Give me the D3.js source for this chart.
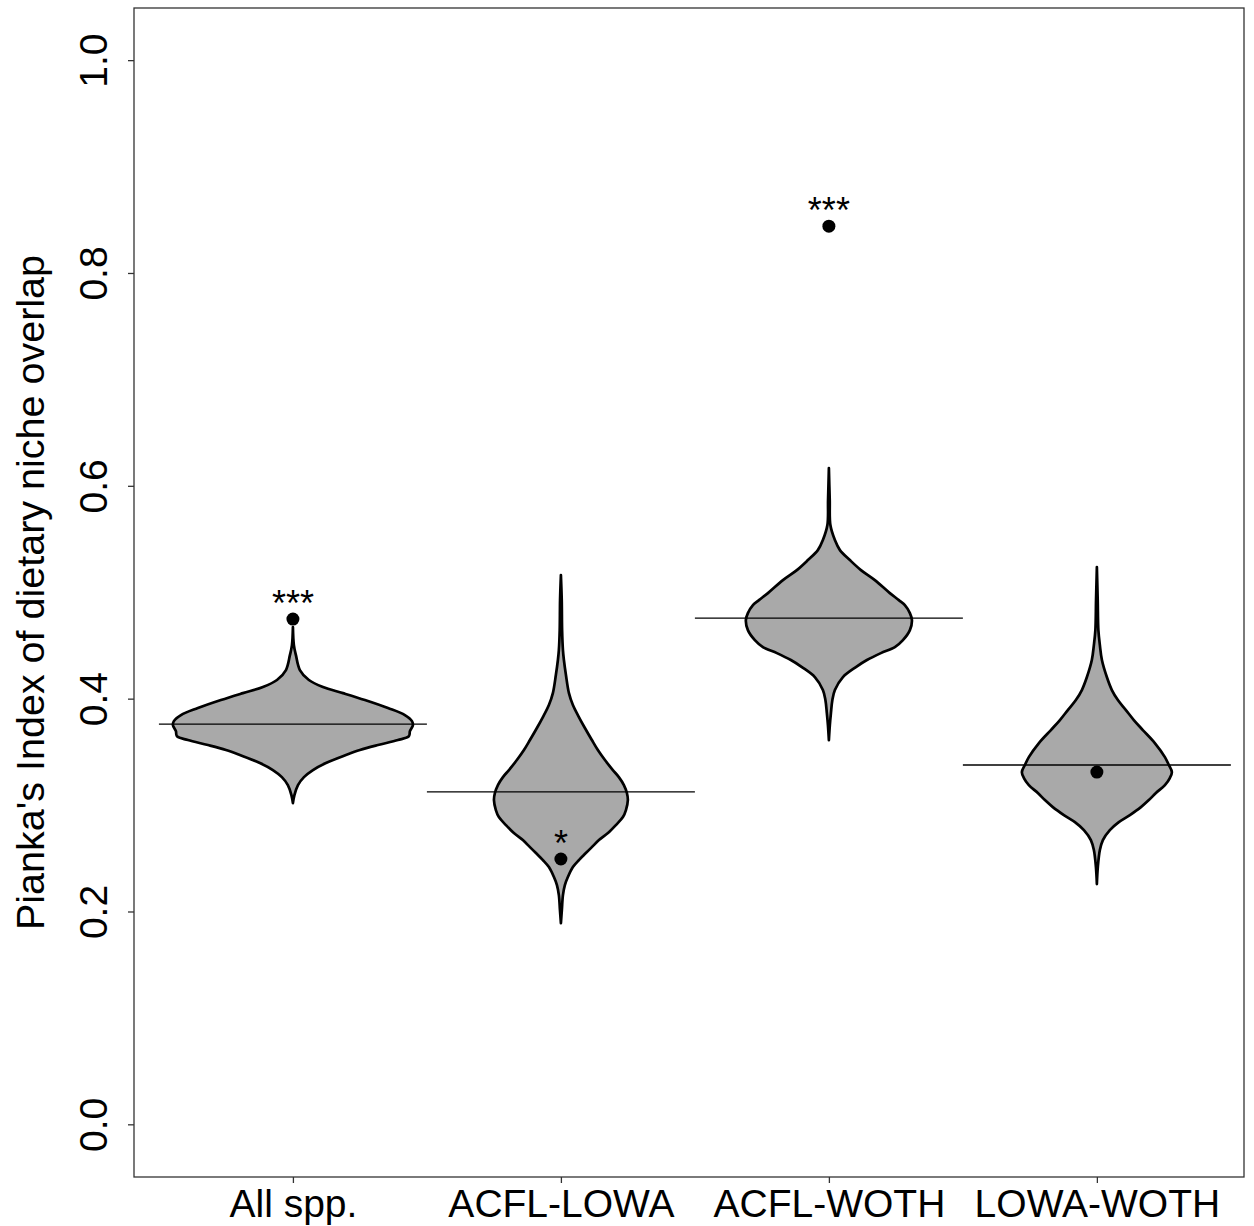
<!DOCTYPE html>
<html>
<head>
<meta charset="utf-8">
<script src="https://cdn.jsdelivr.net/npm/d3@7"></script>
<style>
  html, body { margin: 0; padding: 0; background: #fff; }
  svg { display: block; font-family: "Liberation Sans", Arial, Helvetica, sans-serif; }
</style>
</head>
<body>
<svg id="chart" width="1254" height="1226"></svg>
<script>
// Pairwise comparisons shown along the x axis
const categories = ["All spp.", "ACFL-LOWA", "ACFL-WOTH", "LOWA-WOTH"];

// Null-model distributions of Pianka's index: [value, relative density]
const nullAll = [
  [0.4673, 0], [0.4503, 0.008], [0.4409, 0.025], [0.4269, 0.058], [0.4175, 0.133],
  [0.4109, 0.25], [0.4052, 0.417], [0.3987, 0.6], [0.3912, 0.792], [0.3846, 0.933],
  [0.3789, 0.992], [0.3752, 1.0], [0.3695, 0.975], [0.3648, 0.967], [0.3611, 0.875],
  [0.3564, 0.708], [0.3517, 0.558], [0.3470, 0.442], [0.3395, 0.275], [0.3329, 0.167],
  [0.3263, 0.092], [0.3188, 0.042], [0.3094, 0.0125], [0.3019, 0]
];
const nullAcflLowa = [
  [0.5161, 0], [0.4926, 0.007], [0.4644, 0.01], [0.4456, 0.017], [0.4363, 0.025],
  [0.4222, 0.042], [0.4052, 0.067], [0.3940, 0.1], [0.3827, 0.15], [0.3724, 0.2],
  [0.3611, 0.258], [0.3517, 0.308], [0.3423, 0.367], [0.3329, 0.433], [0.3263, 0.483],
  [0.3188, 0.525], [0.3113, 0.55], [0.3047, 0.558], [0.2953, 0.542], [0.2887, 0.517],
  [0.2812, 0.458], [0.2737, 0.392], [0.2671, 0.317], [0.2605, 0.258], [0.2549, 0.208],
  [0.2483, 0.15], [0.2418, 0.1], [0.2324, 0.058], [0.2248, 0.033], [0.2154, 0.017],
  [0.2014, 0.008], [0.1891, 0]
];
const nullAcflWoth = [
  [0.6166, 0], [0.5866, 0.007], [0.5631, 0.0125], [0.5490, 0.05], [0.5396, 0.092],
  [0.5302, 0.175], [0.5208, 0.267], [0.5114, 0.383], [0.4992, 0.508], [0.4926, 0.583],
  [0.4879, 0.633], [0.4804, 0.675], [0.4738, 0.692], [0.4644, 0.675], [0.4550, 0.617],
  [0.4485, 0.55], [0.4428, 0.433], [0.4363, 0.317], [0.4297, 0.225], [0.4203, 0.117],
  [0.4081, 0.05], [0.3987, 0.029], [0.3865, 0.017], [0.3752, 0.008], [0.3611, 0]
];
const nullLowaWoth = [
  [0.5236, 0], [0.4926, 0.007], [0.4644, 0.0125], [0.4503, 0.025], [0.4363, 0.042],
  [0.4203, 0.083], [0.4081, 0.125], [0.3987, 0.175], [0.3893, 0.242], [0.3799, 0.308],
  [0.3705, 0.383], [0.3583, 0.483], [0.3451, 0.567], [0.3376, 0.6], [0.3310, 0.625],
  [0.3254, 0.608], [0.3188, 0.567], [0.3113, 0.492], [0.3047, 0.433], [0.2981, 0.367],
  [0.2906, 0.275], [0.2840, 0.183], [0.2765, 0.108], [0.2671, 0.05], [0.2577, 0.025],
  [0.2418, 0.008], [0.2258, 0]
];
const nullDistributions = [nullAll, nullAcflLowa, nullAcflWoth, nullLowaWoth];

// Median of each null distribution
const nullMedians = [0.3761, 0.3124, 0.4757, 0.3376];
// Observed overlap values
const observed = [0.4748, 0.2493, 0.8440, 0.3310];
// Significance codes
const significance = ["***", "*", "***", ""];

// Axis
const yTicks = [0.0, 0.2, 0.4, 0.6, 0.8, 1.0];
const yTitle = "Pianka's Index of dietary niche overlap";

// Layout
const box = { left: 134, top: 8, right: 1244, bottom: 1177 };
const fontSize = 39;

const svg = d3.select("#chart");

const x = d3.scaleLinear()
  .domain([-0.593, 3.549])
  .range([box.left, box.right]);
const y = d3.scaleLinear()
  .domain([-0.0495, 1.049])
  .range([box.bottom, box.top]);
const halfWidth = d3.scaleLinear().domain([0, 1]).range([0, 120]);

// Violins
const area = d3.area()
  .curve(d3.curveCatmullRom.alpha(0.5));

nullDistributions.forEach((dist, i) => {
  const cx = x(i);
  area
    .y(d => y(d[0]))
    .x0(d => cx - halfWidth(d[1]))
    .x1(d => cx + halfWidth(d[1]));
  svg.append("path")
    .datum(dist)
    .attr("d", area)
    .attr("fill", "#a9a9a9")
    .attr("stroke", "#000")
    .attr("stroke-width", 2.7)
    .attr("stroke-linejoin", "round");
});

// Median lines
svg.append("g")
  .selectAll("line")
  .data(nullMedians)
  .join("line")
  .attr("x1", (d, i) => x(i - 0.5))
  .attr("x2", (d, i) => x(i + 0.5))
  .attr("y1", d => y(d))
  .attr("y2", d => y(d))
  .attr("stroke", "#000")
  .attr("stroke-width", 1.4);

// Observed points
svg.append("g")
  .selectAll("circle")
  .data(observed)
  .join("circle")
  .attr("cx", (d, i) => x(i))
  .attr("cy", d => y(d))
  .attr("r", 6.5)
  .attr("fill", "#000");

// Significance stars
svg.append("g")
  .selectAll("text")
  .data(observed)
  .join("text")
  .attr("x", (d, i) => x(i))
  .attr("y", d => y(d) - 3)
  .attr("text-anchor", "middle")
  .attr("font-size", 36)
  .text((d, i) => significance[i]);

// Frame
svg.append("rect")
  .attr("x", box.left)
  .attr("y", box.top)
  .attr("width", box.right - box.left)
  .attr("height", box.bottom - box.top)
  .attr("fill", "none")
  .attr("stroke", "#333")
  .attr("stroke-width", 1.3);

// Y axis
const yAxis = svg.append("g")
  .attr("transform", `translate(${box.left},0)`)
  .call(d3.axisLeft(y).tickValues(yTicks).tickSize(6).tickFormat(d3.format(".1f")));
yAxis.select(".domain").remove();
yAxis.selectAll(".tick line").attr("stroke", "#333").attr("stroke-width", 1.3);
yAxis.selectAll(".tick text")
  .attr("font-size", fontSize)
  .attr("font-family", "Liberation Sans, Arial, sans-serif")
  .attr("fill", "#000")
  .attr("text-anchor", "middle")
  .attr("x", null)
  .attr("dy", null)
  .attr("transform", "translate(-27,0) rotate(-90)");

// X axis
const xAxis = svg.append("g")
  .attr("transform", `translate(0,${box.bottom})`)
  .call(d3.axisBottom(x).tickValues(d3.range(categories.length)).tickSize(6)
    .tickFormat(i => categories[i]));
xAxis.select(".domain").remove();
xAxis.selectAll(".tick line").attr("stroke", "#333").attr("stroke-width", 1.3);
xAxis.selectAll(".tick text")
  .attr("font-size", fontSize)
  .attr("font-family", "Liberation Sans, Arial, sans-serif")
  .attr("fill", "#000")
  .attr("y", 40)
  .attr("dy", null);

// Y axis title
svg.append("text")
  .attr("transform", `translate(44,${(box.top + box.bottom) / 2}) rotate(-90)`)
  .attr("text-anchor", "middle")
  .attr("font-size", 39.5)
  .text(yTitle);
</script>
</body>
</html>
